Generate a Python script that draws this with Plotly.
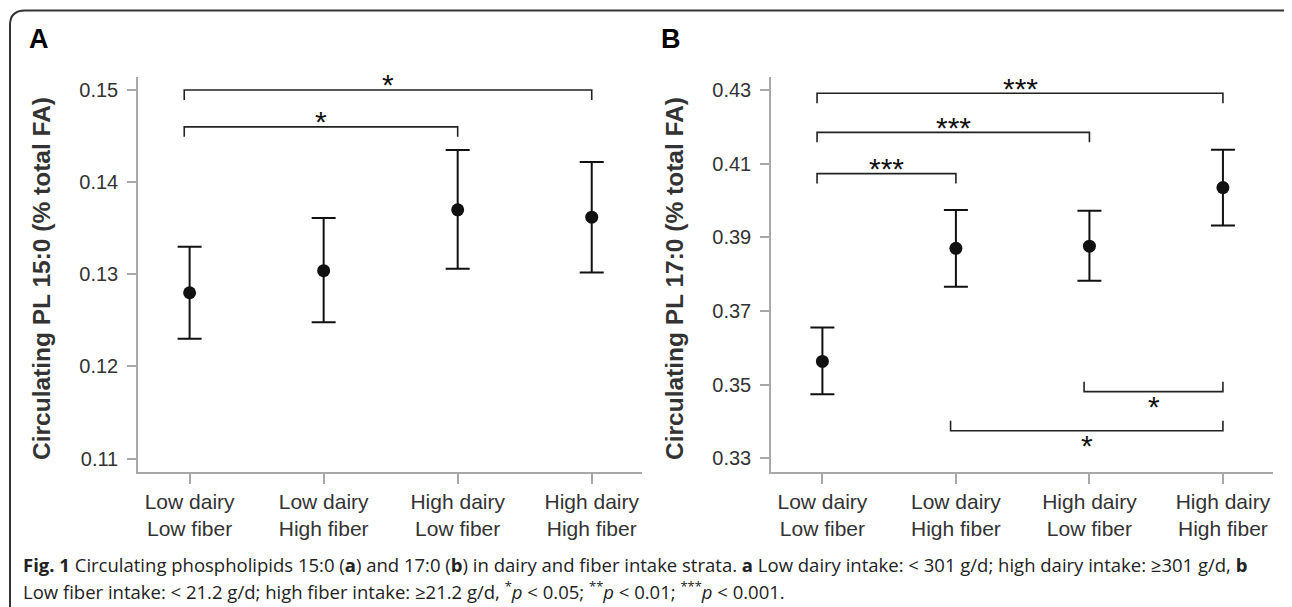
import plotly.graph_objects as go

# ---------------- data ----------------
categories = ["Low dairy<br>Low fiber", "Low dairy<br>High fiber",
              "High dairy<br>Low fiber", "High dairy<br>High fiber"]
group_index = [0, 1, 2, 3]

# Panel A: circulating PL 15:0 (% total FA)
pl15_mean = [0.1280, 0.1304, 0.1370, 0.1362]
pl15_lower = [0.1230, 0.1248, 0.1306, 0.1302]
pl15_upper = [0.1330, 0.1361, 0.1435, 0.1422]
a_ticks = [0.11, 0.12, 0.13, 0.14, 0.15]

# Panel B: circulating PL 17:0 (% total FA)
pl17_mean = [0.3563, 0.3870, 0.3876, 0.4035]
pl17_lower = [0.3474, 0.3766, 0.3782, 0.3932]
pl17_upper = [0.3655, 0.3974, 0.3972, 0.4138]
b_ticks = [0.33, 0.35, 0.37, 0.39, 0.41, 0.43]

# significance brackets
a_br_from = [0, 0]
a_br_to = [3, 2]
a_br_level = [0.1500, 0.1460]
a_br_side = ["top", "top"]
a_br_label = ["*", "*"]

b_br_from = [0, 0, 0, 2, 1]
b_br_to = [3, 2, 1, 3, 3]
b_br_level = [0.4291, 0.4185, 0.4073, 0.3481, 0.3375]
b_br_side = ["top", "top", "top", "bottom", "bottom"]
b_br_label = ["***", "***", "***", "*", "*"]

y_title_a = "Circulating PL 15:0 (% total FA)"
y_title_b = "Circulating PL 17:0 (% total FA)"
caption_line1 = ("<b>Fig. 1</b> Circulating phospholipids 15:0 (<b>a</b>) and 17:0 (<b>b</b>) in dairy and "
                 "fiber intake strata. <b>a</b> Low dairy intake: &lt; 301 g/d; high dairy intake: ≥301 g/d, <b>b</b>")
caption_line2 = ("Low fiber intake: &lt; 21.2 g/d; high fiber intake: ≥21.2 g/d, <sup>*</sup><i>p</i> &lt; 0.05; "
                 "<sup>**</sup><i>p</i> &lt; 0.01; <sup>***</sup><i>p</i> &lt; 0.001.")

# ---------------- layout geometry ----------------
W, H = 1292, 607
OFF = 8  # page body margin that shifts the figure on screen

def fx(p):
    return (p - OFF) / W

def fy(p):
    return 1 - (p - OFF) / H

xa_dom = [fx(138), fx(642)]
xb_dom = [fx(771), fx(1273)]
y_dom = [fy(472), fy(77)]
x_range = [-0.385, 3.375]
a_range = [0.10855, 0.15141]
b_range = [0.32628, 0.43353]
plot_h_px = 472 - 77

INK = "#111111"
TXT = "#333333"
AXC = "#a8a8a8"
FONT = "Liberation Sans, Arial, sans-serif"

fig = go.Figure()


def add_panel(mean, lower, upper, xa, ya):
    fig.add_trace(go.Scatter(
        x=group_index, y=mean, mode="markers", xaxis=xa, yaxis=ya,
        marker=dict(size=13, color=INK),
        error_y=dict(type="data", symmetric=False,
                     array=[u - m for u, m in zip(upper, mean)],
                     arrayminus=[m - l for m, l in zip(mean, lower)],
                     thickness=2, width=12, color=INK),
        showlegend=False, hoverinfo="y"))


def add_brackets(frm, to, level, side, label, yrange, xa, ya, anns):
    tip = 10 / plot_h_px * (yrange[1] - yrange[0])
    for i, j, lv, sd, lb in zip(frm, to, level, side, label):
        t = lv - tip if sd == "top" else lv + tip
        x1, x2 = i - 0.04, j
        fig.add_trace(go.Scatter(
            x=[x1, x1, x2, x2], y=[t, lv, lv, t], mode="lines",
            xaxis=xa, yaxis=ya, line=dict(color="#222222", width=1.6),
            showlegend=False, hoverinfo="skip"))
        anns.append(dict(
            x=(x1 + x2) / 2, y=lv, xref=xa, yref=ya,
            text=lb, showarrow=False, xanchor="center", yanchor="middle",
            yshift=5 if sd == "top" else -15,
            font=dict(family=FONT, size=30, color=INK)))


add_panel(pl15_mean, pl15_lower, pl15_upper, "x", "y")
add_panel(pl17_mean, pl17_lower, pl17_upper, "x2", "y2")

annotations = []
add_brackets(a_br_from, a_br_to, a_br_level, a_br_side, a_br_label, a_range, "x", "y", annotations)
add_brackets(b_br_from, b_br_to, b_br_level, b_br_side, b_br_label, b_range, "x2", "y2", annotations)

# panel letters
for letter, px in (("A", 39), ("B", 671)):
    annotations.append(dict(x=fx(px), y=fy(39), xref="paper", yref="paper", text=f"<b>{letter}</b>",
                            showarrow=False, xanchor="center", yanchor="middle",
                            font=dict(family=FONT, size=27, color="#000000")))
# y titles
for title, px in ((y_title_a, 41), (y_title_b, 674)):
    annotations.append(dict(x=fx(px), y=fy(279), xref="paper", yref="paper", text=f"<b>{title}</b>",
                            showarrow=False, textangle=-90, xanchor="center", yanchor="middle",
                            font=dict(family=FONT, size=24.5, color=TXT)))
# caption
for line, py in ((caption_line1, 564), (caption_line2, 590)):
    annotations.append(dict(x=fx(21), y=fy(py), xref="paper", yref="paper", text=line,
                            showarrow=False, xanchor="left", yanchor="middle", align="left",
                            font=dict(family="Open Sans, sans-serif", size=18.5, color="#222222")))

common_x = dict(range=x_range, tickmode="array", tickvals=group_index, ticktext=categories,
                showline=True, linecolor=AXC, linewidth=1.5, ticks="outside", ticklen=10,
                tickwidth=1.5, tickcolor=AXC, showgrid=False, zeroline=False,
                tickfont=dict(family=FONT, size=21, color=TXT))
common_y = dict(showline=True, linecolor=AXC, linewidth=1.5, ticks="outside", ticklen=9,
                tickwidth=1.5, tickcolor=AXC, showgrid=False, zeroline=False, tickformat=".2f",
                tickmode="array", ticklabelstandoff=5,
                tickfont=dict(family=FONT, size=20, color=TXT))

border = (f"M {fx(10)},{fy(640)} L {fx(10)},{fy(25)} Q {fx(10)},{fy(10.5)} {fx(25)},{fy(10.5)} "
          f"L {fx(1283)},{fy(10.5)} Q {fx(1297)},{fy(10.5)} {fx(1297)},{fy(25)} L {fx(1297)},{fy(640)}")

fig.update_layout(
    width=W, height=H, margin=dict(l=0, r=0, t=0, b=0),
    paper_bgcolor="white", plot_bgcolor="white", showlegend=False,
    xaxis=dict(domain=xa_dom, anchor="y", **common_x),
    yaxis=dict(domain=y_dom, anchor="x", range=a_range, tickvals=a_ticks, **common_y),
    xaxis2=dict(domain=xb_dom, anchor="y2", **common_x),
    yaxis2=dict(domain=y_dom, anchor="x2", range=b_range, tickvals=b_ticks, **common_y),
    annotations=annotations,
    shapes=[dict(type="path", path=border, xref="paper", yref="paper",
                 line=dict(color="#333333", width=2))],
)

fig.write_html("out.html")
